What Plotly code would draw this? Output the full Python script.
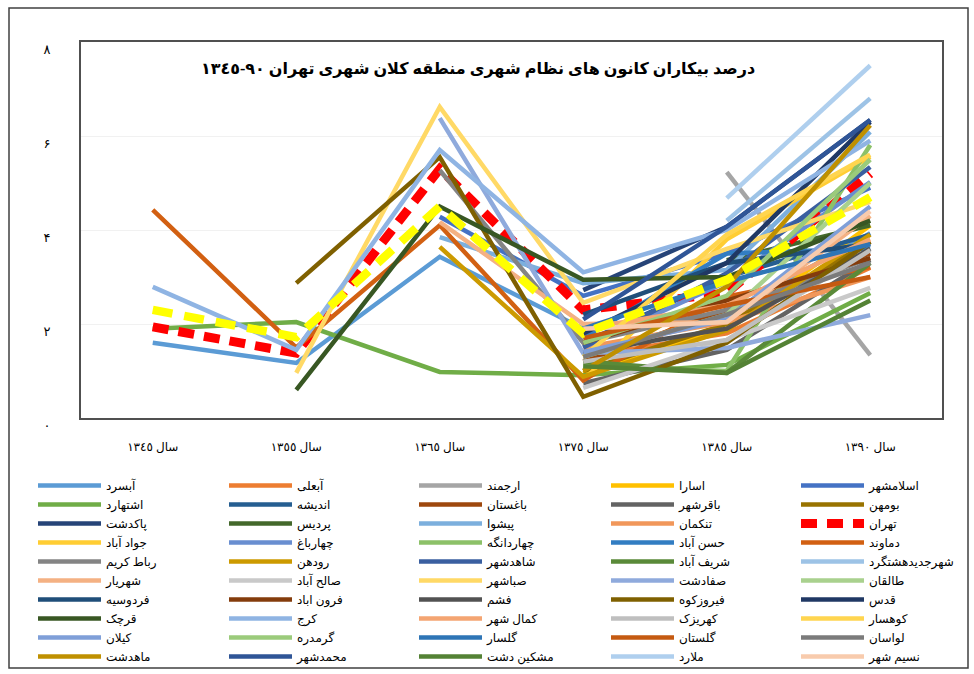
import plotly.graph_objects as go

categories = ["سال ١٣٤٥", "سال ١٣٥٥", "سال ١٣٦٥", "سال ١٣٧٥", "سال ١٣٨٥", "سال ١٣٩٠"]
y_tick_values = [0, 2, 4, 6, 8]
y_tick_labels = ["۰", "۲", "۴", "۶", "۸"]
title_text = "<b>درصد بیکاران کانون های نظام شهری منطقه کلان شهری تهران ٩٠-١٣٤٥</b>"

N = None
s_absard = [1.6, 1.17, 3.43, 1.9, 2.2, 3.93]
s_abali = [N, N, N, 1.3, 1.8, 3.2]
s_arjomand = [N, N, N, N, 5.23, 1.34]
s_asara = [N, N, N, 0.95, 1.9, 4.1]
s_eslamshahr = [N, N, 4.28, 2.6, 3.5, 4.9]
s_eshtehard = [1.9, 2.04, 0.98, 0.91, 1.13, 2.66]
s_andisheh = [N, N, N, 1.6, 3.0, 3.9]
s_baghestan = [N, N, N, 1.2, 2.3, 3.5]
s_bagershahr = [N, N, N, 0.74, 1.45, 3.36]
s_boomehen = [N, N, N, 1.0, 2.0, 3.75]
s_pakdasht = [N, N, N, 2.72, 4.07, 6.34]
s_pardis = [N, N, N, N, 3.36, 4.1]
s_pishva = [N, N, 3.85, 2.87, 3.15, 6.09]
s_tankaman = [N, N, N, 1.5, 2.04, 3.0]
s_tehran = [1.94, 1.38, 5.3, 2.3, 2.66, 5.2]
s_javadabad = [N, N, N, 0.8, 3.8, 5.56]
s_chaharbagh = [N, N, N, 1.5, 2.9, 5.02]
s_chahardangeh = [N, N, N, 1.1, 1.0, 5.81]
s_hasanabad = [N, N, N, 1.7, 3.5, 3.6]
s_damavand = [4.43, 1.5, 4.1, 0.8, 2.58, 3.21]
s_robatkarim = [N, N, 5.27, 1.6, 2.3, 3.4]
s_roudehen = [N, N, 3.64, 0.88, 1.87, 3.9]
s_shahedshahr = [N, N, N, 1.5, 3.08, 5.34]
s_sharifabad = [N, N, N, 1.2, 0.96, 3.3]
s_hashtgerd = [N, N, N, N, 4.2, 6.8]
s_shahriar = [N, N, 4.17, 2.0, 2.04, 4.3]
s_salehabad = [N, N, N, 0.64, 1.66, 2.77]
s_sabashahr = [N, 0.96, 6.62, 2.45, 3.6, 4.6]
s_safadasht = [N, N, 6.38, 1.38, 1.49, 2.19]
s_taleghan = [N, N, N, 1.3, 2.2, 5.0]
s_ferdowsieh = [N, N, N, 2.2, 3.3, 3.7]
s_ferunabad = [N, N, N, 1.6, 2.5, 3.4]
s_fasham = [N, N, N, 1.4, 1.9, 3.6]
s_firuzkuh = [N, 2.87, 5.55, 0.45, 1.6, 3.75]
s_qods = [N, N, N, 1.8, 3.3, 6.3]
s_qarchak = [N, 0.6, 4.5, 2.94, 3.0, 4.2]
s_karaj = [2.79, 1.45, 5.7, 3.1, 4.0, 5.9]
s_kamalshahr = [N, N, N, 1.9, 2.4, 3.8]
s_kahrizak = [N, N, N, 1.2, 1.66, 3.57]
s_kuhsar = [N, N, N, 1.3, 3.9, 5.6]
s_kilan = [N, N, N, 1.4, 2.1, 4.5]
s_garmdareh = [N, N, N, 1.6, 2.6, 5.5]
s_golsar = [N, N, N, 1.9, 2.9, 3.7]
s_golestan = [N, N, N, 1.7, 2.4, 3.0]
s_lavasan = [N, N, N, 1.3, 2.2, 3.3]
s_mahdasht = [N, N, N, 1.0, 2.8, 6.23]
s_mohammadshahr = [N, N, N, 2.1, 4.07, 6.34]
s_meshkindasht = [N, N, N, 1.1, 0.96, 2.5]
s_malard = [N, N, N, N, 4.68, 7.5]
s_nasimshahr = [N, N, N, 1.9, 2.04, 4.4]
s_average = [2.3, 1.72, 4.5, 1.8, 2.94, 4.7]

series_names = [
    "آبسرد", "آبعلی", "ارجمند", "اسارا", "اسلامشهر",
    "اشتهارد", "اندیشه", "باغستان", "باقرشهر", "بومهن",
    "پاکدشت", "پردیس", "پیشوا", "تنکمان", "تهران",
    "جواد آباد", "چهارباغ", "چهاردانگه", "حسن آباد", "دماوند",
    "رباط کریم", "رودهن", "شاهدشهر", "شریف آباد", "شهرجدیدهشتگرد",
    "شهریار", "صالح آباد", "صباشهر", "صفادشت", "طالقان",
    "فردوسیه", "فرون اباد", "فشم", "فیروزکوه", "قدس",
    "قرچک", "کرج", "کمال شهر", "کهریزک", "کوهسار",
    "کیلان", "گرمدره", "گلسار", "گلستان", "لواسان",
    "ماهدشت", "محمدشهر", "مشکین دشت", "ملارد", "نسیم شهر",
]
series_values = [
    s_absard, s_abali, s_arjomand, s_asara, s_eslamshahr,
    s_eshtehard, s_andisheh, s_baghestan, s_bagershahr, s_boomehen,
    s_pakdasht, s_pardis, s_pishva, s_tankaman, s_tehran,
    s_javadabad, s_chaharbagh, s_chahardangeh, s_hasanabad, s_damavand,
    s_robatkarim, s_roudehen, s_shahedshahr, s_sharifabad, s_hashtgerd,
    s_shahriar, s_salehabad, s_sabashahr, s_safadasht, s_taleghan,
    s_ferdowsieh, s_ferunabad, s_fasham, s_firuzkuh, s_qods,
    s_qarchak, s_karaj, s_kamalshahr, s_kahrizak, s_kuhsar,
    s_kilan, s_garmdareh, s_golsar, s_golestan, s_lavasan,
    s_mahdasht, s_mohammadshahr, s_meshkindasht, s_malard, s_nasimshahr,
]
series_colors = [
    "#5B9BD5", "#ED7D31", "#A5A5A5", "#FFC000", "#4472C4",
    "#70AD47", "#255E91", "#9E480E", "#636363", "#997300",
    "#264478", "#43682B", "#7CAFDD", "#F1975A", "#FF0000",
    "#FFCD33", "#698ED0", "#8CC168", "#327DC2", "#D26012",
    "#848484", "#CC9A00", "#3A5FA0", "#5A8A39", "#9DC3E6",
    "#F4B183", "#C9C9C9", "#FFD966", "#8FAADC", "#A9D18E",
    "#1F4E79", "#843C0C", "#525252", "#7F6000", "#203864",
    "#385723", "#8FB4E3", "#F4A572", "#BFBFBF", "#FFD54F",
    "#7F9FD8", "#9BCB7B", "#2E75B6", "#C55A11", "#7B7B7B",
    "#BF9000", "#2F5597", "#548235", "#AFCFEE", "#F8CBAD",
]

W, H = 974, 674
L, R, T, B = 81, 32, 42, 256
pw, ph = W - L - R, H - T - B

def px_x(p):
    return (p - L) / pw

def px_y(p):
    return (H - B - p) / ph

fig = go.Figure()
font_fam = "Liberation Serif, DejaVu Sans, serif"
legend_ids = ["legend", "legend2", "legend3", "legend4", "legend5"]
legend_cols_px = [33, 224, 414, 606, 796]

for i, (name, vals, col) in enumerate(zip(series_names, series_values, series_colors)):
    if name == "تهران":
        line = dict(color=col, width=9, dash="16px,10px")
    else:
        line = dict(color=col, width=4.5)
    fig.add_trace(go.Scatter(x=categories, y=vals, mode="lines", name=name,
                             line=line, connectgaps=False,
                             legend=legend_ids[i % 5]))

fig.add_trace(go.Scatter(x=categories, y=s_average, mode="lines", name="میانگین",
                         line=dict(color="#FFFF00", width=8.5, dash="20px,12px"),
                         showlegend=False))

legend_common = dict(orientation="v", xanchor="left", yanchor="top",
                     itemwidth=63, font=dict(size=12, family=font_fam, color="black"),
                     traceorder="normal", bgcolor="rgba(0,0,0,0)", borderwidth=0)
legend_layout = {}
for lid, cx in zip(legend_ids, legend_cols_px):
    legend_layout[lid] = dict(legend_common, x=px_x(cx), y=px_y(471))

fig.update_layout(
    width=W, height=H,
    margin=dict(l=L, r=R, t=T, b=B, pad=0, autoexpand=False),
    paper_bgcolor="white", plot_bgcolor="white",
    font=dict(family=font_fam, color="black", size=13),
    title=dict(text=title_text, x=478 / W, xref="container", xanchor="center",
               y=1 - 68 / H, yref="container", yanchor="middle",
               font=dict(size=16, family=font_fam, color="black")),
    xaxis=dict(type="category", range=[-0.5, 5.5], showgrid=False, zeroline=False,
               showline=True, mirror=True, linecolor="#505050", linewidth=2,
               ticks="", ticklabelstandoff=17, tickfont=dict(size=12, family=font_fam)),
    yaxis=dict(range=[0, 8], tickvals=y_tick_values, ticktext=y_tick_labels,
               showgrid=True, gridcolor="#f1f1f1", gridwidth=1, zeroline=False,
               showline=True, mirror=True, linecolor="#505050", linewidth=2,
               ticks="", ticklabelstandoff=26, ticklabelshift=7,
               tickfont=dict(size=13, family=font_fam)),
    showlegend=True,
    shapes=[dict(type="rect", xref="paper", yref="paper",
                 x0=px_x(9), x1=px_x(968), y0=px_y(668), y1=px_y(8),
                 line=dict(color="#404040", width=1.5), layer="below")],
    **legend_layout,
)

fig.write_html("out.html", config={"displayModeBar": False},
               post_script="document.body.style.margin='0px';document.body.style.overflow='hidden';")
